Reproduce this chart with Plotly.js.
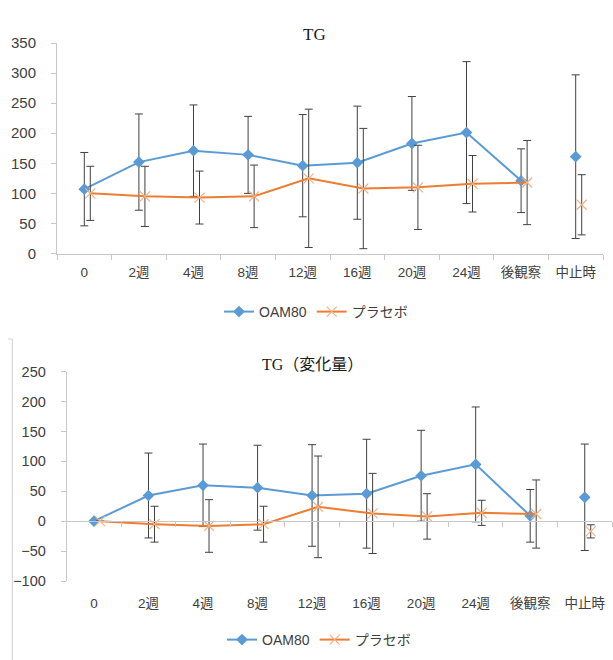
<!DOCTYPE html>
<html>
<head>
<meta charset="utf-8">
<script src="https://cdn.plot.ly/plotly-3.0.1.min.js"></script>
<style>html,body{margin:0;padding:0;background:#fff;}#chart{width:613px;height:660px;}</style>
</head>
<body>
<div id="chart"></div>
<script>
// ---- data ----
const categories = ['0','2週','4週','8週','12週','16週','20週','24週','後観察','中止時'];
const seriesNames = ['OAM80','プラセボ'];
// TG
const tgOam   = [107,152,171,164,146,151,183,201,121,161];
const tgOamSd = [61, 80, 76, 64, 85, 94, 78, 118, 53, 136];
const tgPla   = [100, 95, 93, 95,125,108,110,116,118, 81];
const tgPlaSd = [45, 50, 44, 52,115,100, 70, 47, 70, 50];
// TG change
const dOam   = [0, 43, 60, 56, 43, 46, 76, 95,  9, 40];
const dOamSd = [0, 71, 69, 71, 85, 91, 76, 96, 44, 89];
const dPla   = [0, -5, -8, -5, 24, 13,  8, 14, 12,-17];
const dPlaSd = [0, 30, 44, 30, 85, 67, 38, 21, 57, 11];
const titles = ['TG','TG（変化量）'];

// ---- styles ----
const W = 613, H = 660;
const blue = '#5B9BD5', orange = '#ED7D31', orangeLight = '#F4B183';
const errColor = '#404040';
const axisColor = '#c8c8c8';
const txtColor = '#404040';
const sans = 'Liberation Sans, Noto Sans CJK JP, sans-serif';
const serif = 'Liberation Serif, Noto Sans CJK JP, serif';

const nMain = categories.length - 1;

function makeTraces(y, sd, name, xa, ya, isPla, legendId) {
  const line = isPla ? {color: orange, width: 2} : {color: blue, width: 2};
  const marker = isPla
    ? {symbol: 'x-thin-open', size: 10, line: {color: orangeLight, width: 1.2}, color: orangeLight}
    : {symbol: 'diamond', size: 9, color: blue};
  const err = (arr) => ({type: 'data', array: arr, visible: true, color: errColor, thickness: 1, width: 4});
  return [
    {
      type: 'scatter', mode: 'lines+markers', name: name,
      x: categories.slice(0, nMain), y: y.slice(0, nMain),
      error_y: err(sd.slice(0, nMain)),
      line: line, marker: marker, xaxis: xa, yaxis: ya, legend: legendId,
      hoverinfo: 'x+y'
    },
    {
      type: 'scatter', mode: 'markers', name: name, showlegend: false,
      x: categories.slice(nMain), y: y.slice(nMain),
      error_y: err(sd.slice(nMain)),
      marker: marker, xaxis: xa, yaxis: ya, legend: legendId,
      hoverinfo: 'x+y'
    }
  ];
}

const traces = [].concat(
  makeTraces(tgOam, tgOamSd, seriesNames[0], 'x', 'y', false, 'legend'),
  makeTraces(tgPla, tgPlaSd, seriesNames[1], 'x2', 'y', true, 'legend'),
  makeTraces(dOam, dOamSd, seriesNames[0], 'x3', 'y2', false, 'legend2'),
  makeTraces(dPla, dPlaSd, seriesNames[1], 'x4', 'y2', true, 'legend2'),
  [{type: 'scatter', mode: 'lines', x: categories, y: categories.map(() => null),
    xaxis: 'x5', yaxis: 'y2', showlegend: false, hoverinfo: 'skip'}]
);

// ---- layout geometry (pixels -> paper) ----
const px = (v) => v / W;
const py = (v) => 1 - v / H;
const topDomX = [px(57), px(603)];
const topDomY = [py(253.5), py(43)];
const botDomX = [px(66.7), px(612)];
const botDomY = [py(581), py(371.7)];
const botRange = [-100, 250];
const zeroPos = botDomY[0] + (0 - botRange[0]) / (botRange[1] - botRange[0]) * (botDomY[1] - botDomY[0]);
const shift = 0.11;

const catAxisBase = {
  type: 'category', categoryarray: categories, categoryorder: 'array',
  showgrid: false, zeroline: false, fixedrange: true
};

const layout = {
  width: W, height: H,
  margin: {l: 0, r: 0, t: 0, b: 0},
  paper_bgcolor: '#ffffff', plot_bgcolor: 'rgba(0,0,0,0)',
  font: {family: sans, color: txtColor},
  showlegend: true,
  xaxis: Object.assign({}, catAxisBase, {
    domain: topDomX, anchor: 'y', range: [-0.5, 9.5],
    showline: true, linecolor: axisColor, linewidth: 1,
    ticks: 'outside', tickson: 'boundaries', ticklen: 5, tickcolor: axisColor,
    tickfont: {size: 13.5, color: txtColor, family: sans}, ticklabelstandoff: 6
  }),
  xaxis2: Object.assign({}, catAxisBase, {
    domain: topDomX, overlaying: 'x', anchor: 'y', range: [-0.5 - shift, 9.5 - shift], visible: false
  }),
  yaxis: {
    domain: topDomY, anchor: 'x', range: [0, 350], dtick: 50, tick0: 0,
    showgrid: false, zeroline: false, showline: true, linecolor: axisColor,
    ticks: 'outside', ticklen: 5, tickcolor: axisColor,
    tickfont: {size: 15, color: txtColor, family: sans}, ticklabelstandoff: 12, fixedrange: true
  },
  xaxis3: Object.assign({}, catAxisBase, {
    domain: botDomX, anchor: 'y2', range: [-0.5, 9.5],
    showline: false, ticks: '',
    tickfont: {size: 13.5, color: txtColor, family: sans}, ticklabelstandoff: 12
  }),
  xaxis4: Object.assign({}, catAxisBase, {
    domain: botDomX, overlaying: 'x3', anchor: 'y2', range: [-0.5 - shift, 9.5 - shift], visible: false
  }),
  xaxis5: Object.assign({}, catAxisBase, {
    domain: botDomX, overlaying: 'x3', anchor: 'free', position: zeroPos, range: [-0.5, 9.5],
    showline: true, linecolor: axisColor, linewidth: 1,
    ticks: 'outside', tickson: 'boundaries', ticklen: 5, tickcolor: axisColor,
    showticklabels: false
  }),
  yaxis2: {
    domain: botDomY, anchor: 'x3', range: botRange, dtick: 50, tick0: 0,
    showgrid: false, zeroline: false, showline: true, linecolor: axisColor,
    ticks: 'outside', ticklen: 5, tickcolor: axisColor,
    tickfont: {size: 14.5, color: txtColor, family: sans}, ticklabelstandoff: 12, fixedrange: true
  },
  legend: {
    orientation: 'h', x: px(316), xanchor: 'center', y: py(312), yanchor: 'middle',
    font: {size: 14, color: txtColor, family: sans}, bgcolor: 'rgba(0,0,0,0)'
  },
  legend2: {
    orientation: 'h', x: px(319), xanchor: 'center', y: py(640), yanchor: 'middle',
    font: {size: 14, color: txtColor, family: sans}, bgcolor: 'rgba(0,0,0,0)'
  },
  annotations: [
    {text: titles[0], xref: 'paper', yref: 'paper', x: px(314), y: py(34), xanchor: 'center', yanchor: 'middle',
     showarrow: false, font: {family: serif, size: 17, color: '#1a1a1a'}},
    {text: titles[1], xref: 'paper', yref: 'paper', x: px(312), y: py(365), xanchor: 'center', yanchor: 'middle',
     showarrow: false, font: {family: serif, size: 16, color: '#1a1a1a'}}
  ],
  shapes: [
    {type: 'line', xref: 'paper', yref: 'paper', x0: px(12.3), x1: px(12.3), y0: 0, y1: py(339),
     line: {color: '#d0d0d0', width: 1}},
    {type: 'line', xref: 'paper', yref: 'paper', x0: px(8), x1: px(12.3), y0: py(339), y1: py(339),
     line: {color: '#d0d0d0', width: 1}}
  ]
};

Plotly.newPlot('chart', traces, layout, {displayModeBar: false, staticPlot: true});
</script>
</body>
</html>
